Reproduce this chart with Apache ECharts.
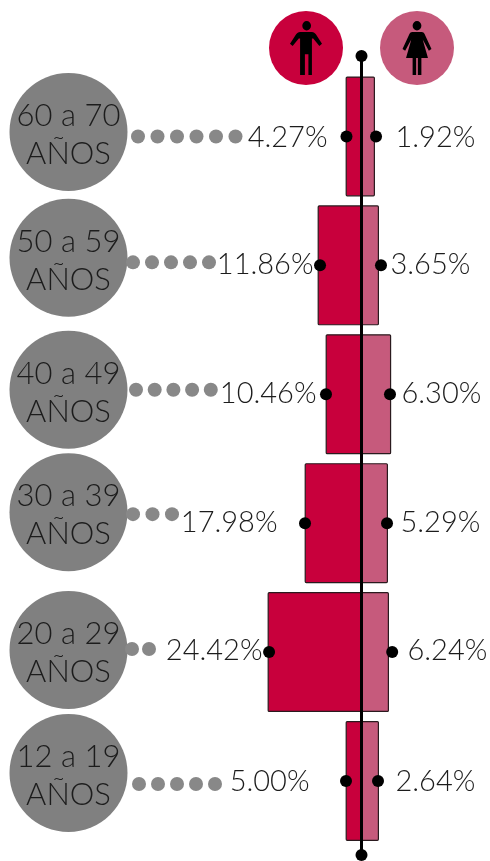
<!DOCTYPE html>
<html><head><meta charset="utf-8">
<style>html,body{margin:0;padding:0;background:#fff}#c{width:490px;height:861px}</style>
<script src="https://cdn.jsdelivr.net/npm/echarts@6/dist/echarts.min.js"></script>
</head><body><div id="c"></div>
<script>
// ---- data ----
const ageLines = ['60 a 70','50 a 59','40 a 49','30 a 39','20 a 29','12 a 19'];
const ageUnit = 'AÑOS';
const menLabels = ['4.27%','11.86%','10.46%','17.98%','24.42%','5.00%'];
const womenLabels = ['1.92%','3.65%','6.30%','5.29%','6.24%','2.64%'];
// bar lengths as drawn in the picture (the source is not to scale with its labels)
const menDrawn = [4.15,11.46,9.37,14.85,24.52,4.15];
const womenDrawn = [3.52,4.57,7.75,6.92,7.18,4.57];
const womenDotAt = [3.79,5.09,7.44,6.66,8.01,4.31];
const menDotAt = [3.92,10.83,9.27,14.75,24.13,4.05];
const leaderDots = [6,5,5,3,2,5];

// ---- layout ----
const PX = 3.83, CX = 361.5;
const xu = p => (p - CX) / PX;
const ageY = [-4.5,-7.5,-4.5,-11,-2,-8];
const leaderStart = [138,133,136,133,132,139];
const leaderStep = [19.5,19,18.7,19.5,17,19];
const leaderY = [0,-3,-4.5,-9,-3,3];
const menLabelRight = [328,314,317,278,263,310];
const womenLabelLeft = [395,390,401,400,407,395];
const labelY = [1,-1,-1,-1,-1,1];
const TEXT = '#1c1c1c', FONT = 'Lato';

const manPath = 'path://M50 0a10 10 0 1 1-.01 0zM38 23h24c4 0 7 2 9 5l14 20-6 5-14-16-3 0v27l0 50H54V70h-8v44H35V64l0-27-3 0-14 16-6-5 14-20c2-3 5-5 9-5z';
const womanPath = 'path://M50 0a10 10 0 1 1-.01 0zM39 23h22c3 0 5 2 6 4l16 32-6 4-14-24 12 39H60v36H52V78h-4v36H40V78H25l12-39-14 24-6-4 16-32c1-2 3-4 6-4z';

const rows = ageLines.map((_, i) => i);
const leader = [];
rows.forEach(r => { for (let k = 0; k < leaderDots[r]; k++) leader.push({value:[xu(leaderStart[r] + k*leaderStep[r]), r], symbolOffset:[0, leaderY[r]]}); });
const badgeY = (855 - 48) / 799;   // icon row, above the top of the axis line

const chart = echarts.init(document.getElementById('c'));
chart.setOption({
  animation:false, backgroundColor:'#fff',
  grid:[{left:0,right:0,top:72,height:773.4},{left:0,right:0,top:56,bottom:6}],
  xAxis:[{type:'value',min:xu(0),max:xu(490),show:false,gridIndex:0},
         {type:'value',min:xu(0),max:xu(490),show:false,gridIndex:1}],
  yAxis:[{type:'category',data:ageLines,inverse:true,show:false,gridIndex:0},
         {type:'value',min:0,max:1,show:false,gridIndex:1}],
  series:[
    {type:'bar',name:'Hombres',stack:'s',barWidth:120,data:menDrawn.map(v=>-v),
     itemStyle:{color:'#c8003c',borderColor:'#2a1a1e',borderWidth:1.2,borderRadius:1},z:2},
    {type:'bar',name:'Mujeres',stack:'s',barWidth:120,data:womenDrawn,
     itemStyle:{color:'#c65a7c',borderColor:'#2a1a1e',borderWidth:1.2,borderRadius:1},z:2},
    {type:'line',xAxisIndex:1,yAxisIndex:1,data:[[0,0],[0,1]],symbol:'circle',symbolSize:12,showSymbol:true,
     lineStyle:{color:'#000',width:3},itemStyle:{color:'#000'},z:4,silent:true},
    {type:'scatter',name:'Badges',xAxisIndex:1,yAxisIndex:1,symbolSize:74,z:2,clip:false,
     data:[{value:[xu(306),badgeY],itemStyle:{color:'#c8003c',opacity:1}},{value:[xu(417),badgeY],itemStyle:{color:'#c65a7c',opacity:1}}]},
    {type:'scatter',name:'Icons',xAxisIndex:1,yAxisIndex:1,z:3,clip:false,symbolKeepAspect:true,itemStyle:{color:'#000',opacity:1},
     data:[{value:[xu(306),badgeY],symbol:manPath,symbolSize:[50,54]},{value:[xu(417),badgeY],symbol:womanPath,symbolSize:[50,54]}]},
    {type:'scatter',name:'Edad',symbolSize:118,z:3,
     data:rows.map(r=>({value:[xu(68.5),r],symbolOffset:[0,ageY[r]],
       label:{show:true,position:'inside',offset:[0,3],formatter:ageLines[r]+'\n'+ageUnit,
         fontFamily:FONT,fontWeight:300,fontSize:31,lineHeight:38,color:TEXT}})),
     itemStyle:{color:'#808080',opacity:1}},
    {type:'scatter',name:'Guia',symbolSize:14,data:leader,itemStyle:{color:'#888888',opacity:1},z:3},
    {type:'scatter',name:'MenDots',symbolSize:12,data:rows.map(r=>[-menDotAt[r],r]),itemStyle:{color:'#000',opacity:1},z:5},
    {type:'scatter',name:'WomenDots',symbolSize:12,data:rows.map(r=>[womenDotAt[r],r]),itemStyle:{color:'#000',opacity:1},z:5},
    {type:'scatter',name:'MenText',symbolSize:1,itemStyle:{color:'transparent',opacity:1},z:6,
     data:rows.map(r=>({value:[xu(menLabelRight[r]),r],
       label:{show:true,position:'left',distance:0,offset:[0,labelY[r]],formatter:menLabels[r],fontFamily:FONT,fontWeight:300,fontSize:29,color:TEXT}}))},
    {type:'scatter',name:'WomenText',symbolSize:1,itemStyle:{color:'transparent',opacity:1},z:6,
     data:rows.map(r=>({value:[xu(womenLabelLeft[r]),r],
       label:{show:true,position:'right',distance:0,offset:[0,labelY[r]],formatter:womenLabels[r],fontFamily:FONT,fontWeight:300,fontSize:29,color:TEXT}}))}
  ]
});
</script></body></html>
